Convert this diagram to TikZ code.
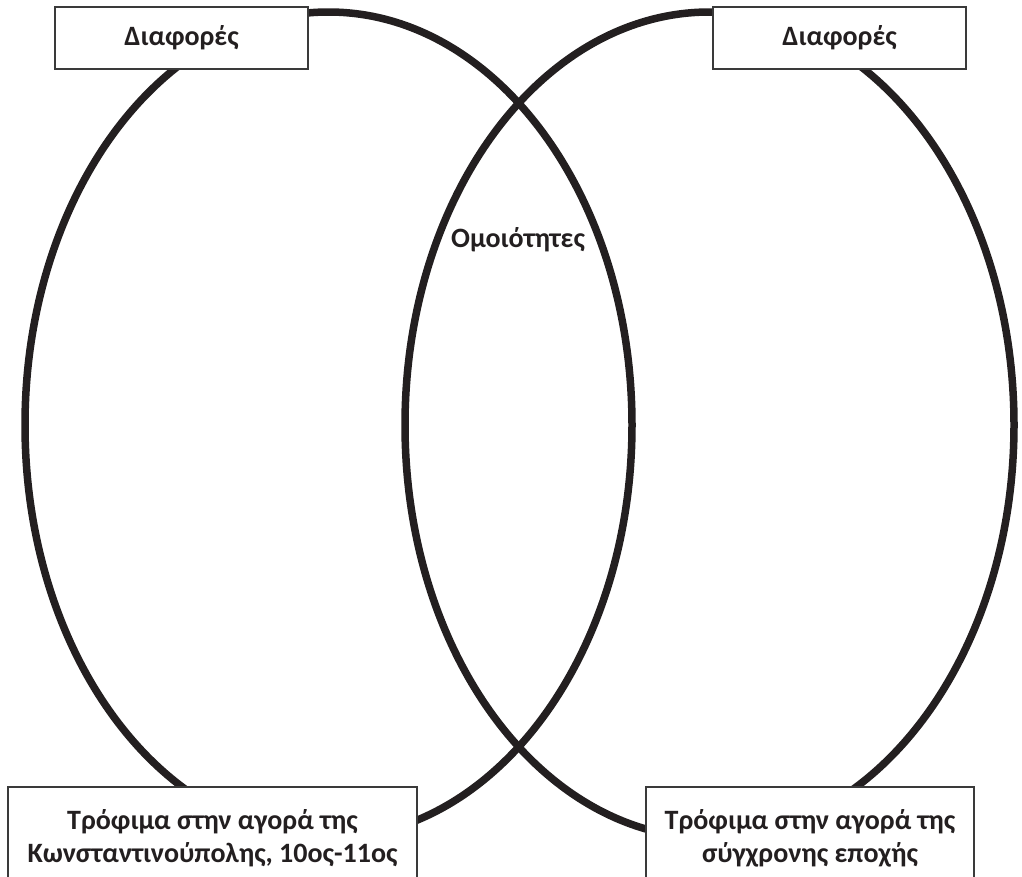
\documentclass[tikz,border=0pt]{standalone}
\usepackage{fontspec}
\setmainfont{Carlito}[BoldFont={Carlito Bold}]
\definecolor{ink}{HTML}{231F20}
\definecolor{boxline}{HTML}{3A3A3A}
\begin{document}
\begin{tikzpicture}[x=1pt,y=-1pt,
  ring/.style={draw=ink,line width=7.5pt},
  labelbox/.style={draw=boxline,line width=1.3pt,fill=white,inner sep=0pt,
    align=center,text=ink,font=\bfseries\fontsize{28}{33}\selectfont},
  plain/.style={inner sep=0pt,text=ink,font=\bfseries\fontsize{28}{33}\selectfont}]
\useasboundingbox (0,0) rectangle (1022,876);
% circles
\draw[ring] (328.5,425) ellipse [x radius=303.5, y radius=413];
\draw[ring] (709.5,425) ellipse [x radius=304.5, y radius=413];
% boxes
\node[labelbox,minimum width=253pt,minimum height=62pt] (tl) at (181.5,38) {Διαφορές};
\node[labelbox,minimum width=253pt,minimum height=62pt] (tr) at (839.5,38) {Διαφορές};
\node[plain] (mid) at (518,240) {Ομοιότητες};
\node[labelbox,minimum width=409pt,minimum height=103pt] (bl) at (212.5,838.5)
  {Τρόφιμα στην αγορά της\\Κωνσταντινούπολης, 10ος-11ος};
\node[labelbox,minimum width=328pt,minimum height=103pt] (br) at (810,838.5)
  {Τρόφιμα στην αγορά της\\σύγχρονης εποχής};
\end{tikzpicture}
\end{document}
